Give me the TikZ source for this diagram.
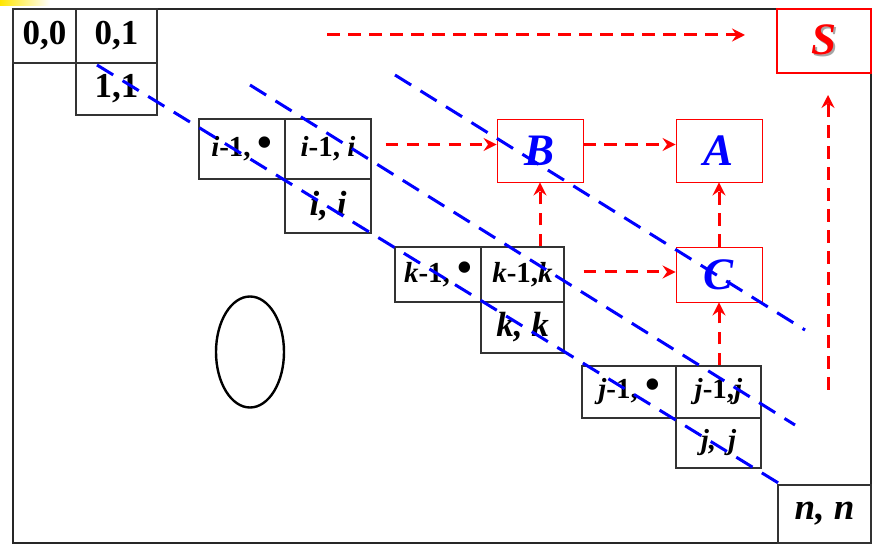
\documentclass[tikz,border=0pt]{standalone}
\usepackage{graphicx}
\usepackage{fontspec}
\setmainfont{Liberation Serif}
\usetikzlibrary{arrows.meta}
\newcommand{\bigbul}{\raisebox{0.5pt}{\scalebox{1.45}{•}}}
\begin{document}
\begin{tikzpicture}[x=1pt,y=-1pt,
  cell/.style={draw=black!80, line width=1.2pt, inner sep=0pt, font=\fontsize{29}{32}\selectfont\bfseries},
  bigcell/.style={cell, font=\fontsize{35}{38}\selectfont\bfseries},
  rbox/.style={draw=red, line width=0.9pt, inner sep=0pt, text=blue, font=\fontsize{45}{48}\selectfont\bfseries\itshape},
  rarrow/.style={draw=red, line width=3pt, dash pattern=on 12.5pt off 8.5pt, -{Stealth[length=13pt,width=13pt,inset=4.5pt]}},
  bline/.style={draw=blue, line width=3pt, dash pattern=on 19pt off 11pt},
]
\useasboundingbox (0,0) rectangle (879,553);
\shade[left color=yellow!80!orange, right color=white] (0,0) rectangle (50,6);
\draw[black!85, line width=1.1pt] (13,9) rectangle (871,543);

% black cells
\node[bigcell, minimum width=63pt, minimum height=54pt] (n00) at (44.5,36) {0,0};
\node[bigcell, minimum width=81pt, minimum height=54pt] (n01) at (116.5,36) {0,1};
\node[bigcell, minimum width=81pt, minimum height=52pt] (n11) at (116.5,89) {1,1};

\node[cell, minimum width=86pt, minimum height=60pt] (ia) at (242,149) {\itshape i\upshape-1, \bigbul};
\node[cell, minimum width=86pt, minimum height=60pt] (ib) at (328,149) {\itshape i\upshape-1, \itshape i};
\node[bigcell, minimum width=86pt, minimum height=54pt] (ic) at (328,206) {\itshape i, i};

\node[cell, minimum width=86pt, minimum height=55pt] (ka) at (438,274.5) {\itshape k\upshape-1, \bigbul};
\node[cell, minimum width=83pt, minimum height=55pt] (kb) at (522.5,274.5) {\itshape k\upshape-1,\itshape k};
\node[bigcell, minimum width=83pt, minimum height=51pt] (kc) at (522.5,327.5) {\itshape k, k};

\node[cell, minimum width=94pt, minimum height=52pt] (ja) at (629,392) {\itshape j\upshape-1, \bigbul};
\node[cell, minimum width=85pt, minimum height=52pt] (jb) at (718.5,392) {\itshape j\upshape-1,\itshape j};
\node[cell, minimum width=85pt, minimum height=50pt] (jc) at (718.5,443) {\itshape j,\, j};

\node[cell, minimum width=93pt, minimum height=58pt, font=\fontsize{37}{40}\selectfont\bfseries\itshape] (nn) at (824.5,514) {n, n};

% red boxes
\node[rbox, minimum width=86pt, minimum height=63pt] (B) at (540,150.5) {B};
\node[rbox, minimum width=86pt, minimum height=63pt] (A) at (719,150.5) {A};
\node[rbox, minimum width=86pt, minimum height=55pt] (C) at (719,274.5) {C};
\node[rbox, draw=red, line width=2.5pt, text=red, minimum width=94pt, minimum height=64pt] (S) at (824,41)
  {\makebox[0pt][l]{\kern2.5pt\raisebox{-2.5pt}{\textcolor{black!35}{S}}}S};

% red dashed arrows
\coordinate (t1) at (327,35);
\coordinate (t2) at (745,35);
\coordinate (r1) at (828,390);
\coordinate (r2) at (828,95);
\coordinate (Bw) at ([yshift=6pt]B.west);
\coordinate (Aw) at ([yshift=6pt]A.west);
\coordinate (Cw) at ([yshift=2.5pt]C.west);
\draw[rarrow] (t1) -- (t2);
\draw[rarrow] (r1) -- (r2);
\draw[rarrow] (Bw -| ib.east) ++(14,0) -- (Bw);
\draw[rarrow] (Bw -| B.east) -- (Aw);
\draw[rarrow] (Cw -| kb.east) ++(19,0) -- (Cw);
\draw[rarrow] (B.south |- kb.north) -- (B.south);
\draw[rarrow] (C.north) -- (A.south);
\draw[rarrow] (C.south |- jb.north) -- (C.south);

% ellipse
\draw[line width=2.4pt] (250,352) ellipse [x radius=34, y radius=55.5];

% blue dashed lines
\coordinate (l1a) at (97,65);
\coordinate (l1b) at (780,484);
\coordinate (l2a) at (250,85);
\coordinate (l2b) at (795,425);
\coordinate (l3a) at (395,75);
\coordinate (l3b) at (805,330);
\draw[bline] (l1a) -- (l1b);
\draw[bline] (l2a) -- (l2b);
\draw[bline] (l3a) -- (l3b);
\end{tikzpicture}
\end{document}
